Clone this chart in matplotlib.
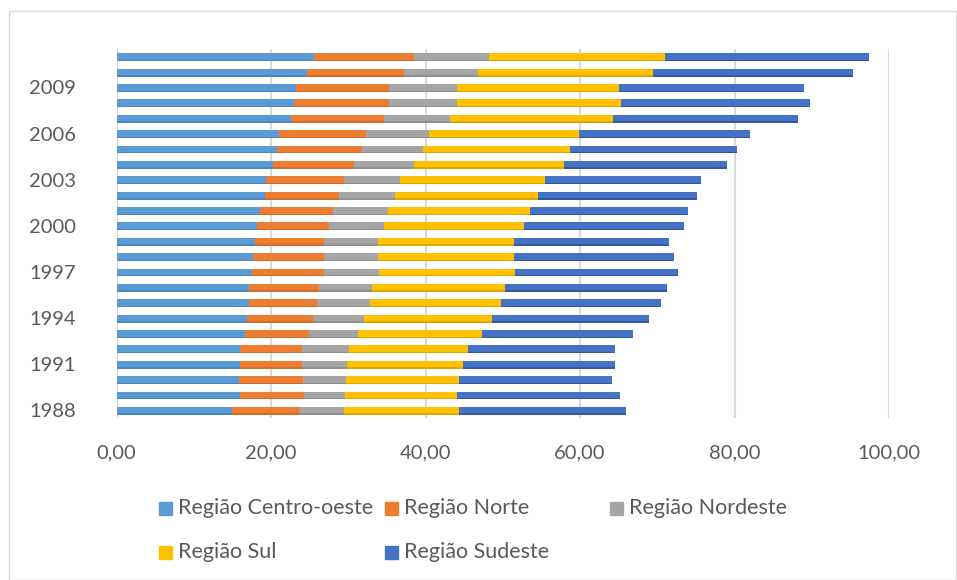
import matplotlib.pyplot as plt
from matplotlib.patches import Rectangle
import numpy as np

plt.rcParams['font.family'] = ['Lato', 'DejaVu Sans']

# dados (1988 a 2011)
anos = list(range(1988, 2012))
centro_oeste = [14.9, 16.0, 15.9, 16.0, 16.0, 16.6, 16.9, 17.1, 17.2, 17.6, 17.7, 17.9,
                18.2, 18.6, 19.2, 19.4, 20.2, 20.8, 21.0, 22.6, 23.0, 23.3, 24.6, 25.6]
norte = [8.7, 8.3, 8.2, 8.0, 8.0, 8.3, 8.6, 8.9, 9.0, 9.3, 9.2, 9.0,
         9.3, 9.4, 9.6, 10.0, 10.6, 11.0, 11.3, 12.0, 12.3, 12.0, 12.6, 12.9]
nordeste = [5.8, 5.3, 5.6, 5.8, 6.1, 6.3, 6.5, 6.8, 6.9, 7.1, 7.0, 6.9,
            7.1, 7.1, 7.2, 7.3, 7.7, 7.9, 8.2, 8.6, 8.8, 8.8, 9.6, 9.7]
sul = [15.0, 14.5, 14.6, 15.0, 15.4, 16.1, 16.6, 17.0, 17.2, 17.6, 17.6, 17.6,
       18.2, 18.4, 18.6, 18.8, 19.4, 19.0, 19.4, 21.1, 21.2, 20.9, 22.7, 22.8]
sudeste = [21.5, 21.1, 19.8, 19.7, 19.0, 19.5, 20.3, 20.7, 20.9, 21.1, 20.7, 20.1,
           20.7, 20.5, 20.6, 20.2, 21.1, 21.6, 22.1, 23.9, 24.5, 24.0, 25.9, 26.4]

series = [centro_oeste, norte, nordeste, sul, sudeste]
nomes = ['Região Centro-oeste', 'Região Norte', 'Região Nordeste', 'Região Sul', 'Região Sudeste']
cores = ['#5B9BD5', '#ED7D31', '#A5A5A5', '#FFC000', '#4472C4']
sombras = ['#4F86BA', '#CF6D2B', '#909090', '#DFA800', '#34599A']

fig = plt.figure(figsize=(9.57, 5.8), dpi=100)
W, H = 957, 580
ax = fig.add_axes([116.5 / W, 1 - 418 / H, (889 - 116.5) / W, (418 - 49) / H])

# moldura do gráfico
fig.add_artist(Rectangle((9 / W, 0), 1 - 10 / W, 1 - 11 / H, transform=fig.transFigure,
                         fill=False, edgecolor='#D9D9D9', linewidth=1))

y = np.arange(len(anos))
esquerda = np.zeros(len(anos))
for vals, nome, cor, sombra in zip(series, nomes, cores, sombras):
    # leve sombra em baixo, como no Excel
    ax.barh(y - 0.05, vals, left=esquerda, height=0.48, color=sombra, zorder=2)
    ax.barh(y + 0.01, vals, left=esquerda, height=0.42, color=cor, label=nome, zorder=3)
    esquerda += np.array(vals)

ax.set_xlim(0, 100)
ax.set_ylim(-0.5, len(anos) - 0.5)
ax.set_xticks(range(0, 101, 20))
ax.set_xticklabels(['{:.2f}'.format(v).replace('.', ',') for v in range(0, 101, 20)])
ax.set_yticks([i for i, a in enumerate(anos) if (a - 1988) % 3 == 0])
ax.set_yticklabels([str(a) for a in anos if (a - 1988) % 3 == 0])
ax.tick_params(axis='both', length=0, labelsize=14.5, labelcolor='#595959')
ax.tick_params(axis='x', pad=19)
ax.tick_params(axis='y', pad=29)
ax.grid(axis='x', color='#D9D9D9', linewidth=1.5, zorder=0)
ax.set_axisbelow(True)
for s in ax.spines.values():
    s.set_visible(False)

# legenda montada à mão (3 colunas, 2 linhas)
pos = [(159, 508), (385, 508), (610, 508), (159, 552), (385, 552)]
for (px, py), nome, cor in zip(pos, nomes, cores):
    fig.add_artist(Rectangle((px / W, 1 - (py + 6.5) / H), 13 / W, 13 / H,
                             transform=fig.transFigure, color=cor))
    fig.text((px + 19) / W, 1 - py / H, nome, fontsize=15.5, color='#595959',
             va='center', ha='left')

fig.savefig('out.png', dpi=100)
